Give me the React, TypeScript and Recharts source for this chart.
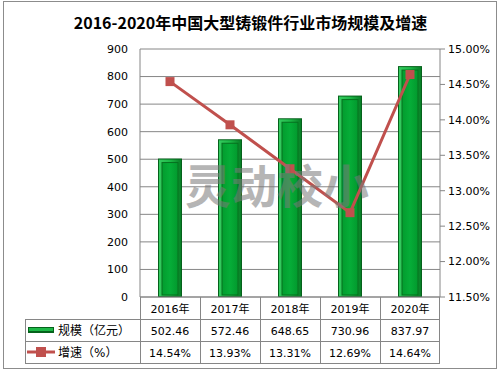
import React from "react";
import {
  ComposedChart,
  Bar,
  Line,
  XAxis,
  YAxis,
  CartesianGrid,
} from "recharts";

const years = ["2016年", "2017年", "2018年", "2019年", "2020年"];
const marketSize = [502.46, 572.46, 648.65, 730.96, 837.97]; // 亿元
const growthRate = [14.54, 13.93, 13.31, 12.69, 14.64]; // %
const leftTicks = [0, 100, 200, 300, 400, 500, 600, 700, 800, 900];
const rightTicks = [11.5, 12, 12.5, 13, 13.5, 14, 14.5, 15];

const W = 500;
const H = 371;
const PLOT_L = 140;
const PLOT_R = 440;
const PLOT_T = 49;
const PLOT_B = 297;
const ROW_H = 22;
const LEGEND_L = 25;

const FONT = '"DejaVu Sans", "Noto Sans CJK SC", sans-serif';
const GRID = "#868686";
const RED = "#c0504d";

const chartData = years.map((year, i) => ({
  year,
  size: marketSize[i],
  growth: growthRate[i],
}));

// Excel style bevelled green bar
const BevelBar = (props: any) => {
  const { x, y, width, height } = props;
  if (!height || height <= 0) return null;
  return (
    <g>
      <rect x={x} y={y} width={width} height={height} fill="#05621b" />
      <rect x={x + 1} y={y + 1} width={width - 2} height={height - 2} fill="url(#barEdge)" />
      <rect
        x={x + 4}
        y={y + 4}
        width={width - 8}
        height={height - 6}
        fill="url(#barFace)"
        stroke="#06711f"
        strokeWidth={1}
      />
    </g>
  );
};

const SquareDot = (props: any) => {
  const { cx, cy } = props;
  if (cx == null || cy == null) return null;
  return <rect x={cx - 4.5} y={cy - 4.5} width={9} height={9} fill={RED} />;
};

const YearTick = (props: any) => {
  const { x, payload } = props;
  return (
    <text
      x={x}
      y={PLOT_B + ROW_H / 2 + 1}
      textAnchor="middle"
      dominantBaseline="central"
      fontSize={11}
      fontFamily={FONT}
      fill="#000"
    >
      {payload.value}
    </text>
  );
};

export default function App() {
  const colW = (PLOT_R - PLOT_L) / years.length;
  const row1 = PLOT_B + ROW_H;
  const row2 = row1 + ROW_H;
  const tableBottom = row2 + ROW_H;

  return (
    <div style={{ position: "absolute", left: 0, top: 0, width: W, height: H, background: "#fff" }}>
      <ComposedChart
        width={W}
        height={H}
        data={chartData}
        margin={{ top: PLOT_T, right: 0, left: 0, bottom: H - PLOT_B - ROW_H }}
      >
        <defs>
          <linearGradient id="barEdge" x1="0" y1="0" x2="1" y2="0">
            <stop offset="0%" stopColor="#35cc60" />
            <stop offset="50%" stopColor="#1db847" />
            <stop offset="100%" stopColor="#087f26" />
          </linearGradient>
          <linearGradient id="barFace" x1="0" y1="0" x2="1" y2="0">
            <stop offset="0%" stopColor="#029c2e" />
            <stop offset="50%" stopColor="#06ad38" />
            <stop offset="100%" stopColor="#02992d" />
          </linearGradient>
        </defs>
        <CartesianGrid
          yAxisId="left"
          vertical={false}
          horizontal
          stroke={GRID}
          strokeWidth={1}
        />
        <XAxis
          dataKey="year"
          height={ROW_H}
          tickLine={false}
          axisLine={{ stroke: GRID }}
          tick={<YearTick />}
          interval={0}
        />
        <YAxis
          yAxisId="left"
          orientation="left"
          width={PLOT_L}
          domain={[0, 900]}
          ticks={leftTicks}
          tickLine={false}
          tickMargin={6}
          axisLine={{ stroke: GRID }}
          tick={{ fontSize: 11, fontFamily: FONT, fill: "#000" }}
        />
        <YAxis
          yAxisId="right"
          orientation="right"
          width={W - PLOT_R}
          domain={[11.5, 15]}
          ticks={rightTicks}
          tickSize={5}
          tickMargin={3}
          tickLine={{ stroke: GRID }}
          axisLine={{ stroke: GRID }}
          tickFormatter={(v: number) => `${v.toFixed(2)}%`}
          tick={{ fontSize: 11, fontFamily: FONT, fill: "#000" }}
        />
        <Bar
          yAxisId="left"
          dataKey="size"
          barSize={24}
          shape={<BevelBar />}
          isAnimationActive={false}
        />
        <Line
          yAxisId="right"
          dataKey="growth"
          stroke={RED}
          strokeWidth={3}
          dot={<SquareDot />}
          activeDot={false}
          isAnimationActive={false}
        />
      </ComposedChart>

      <svg
        width={W}
        height={H}
        style={{ position: "absolute", left: 0, top: 0, pointerEvents: "none" }}
      >
        {/* chart frame */}
        <rect x={3.5} y={1.5} width={493} height={367} fill="none" stroke="#8c8c8c" />

        <text
          x={250.5}
          y={29}
          textAnchor="middle"
          fontSize={16}
          fontWeight="bold"
          fontFamily='"Noto Sans CJK SC", sans-serif'
          fill="#000"
        >
          2016-2020年中国大型铸锻件行业市场规模及增速
        </text>

        {/* watermark */}
        <text
          x={277}
          y={203}
          textAnchor="middle"
          fontSize={46}
          fontWeight="bold"
          fontFamily='"Noto Sans CJK SC", sans-serif'
          fill="#7a7a7a"
          opacity={0.55}
        >
          灵动校小
        </text>

        {/* data table */}
        <g stroke={GRID} strokeWidth={1} fill="none">
          {years.map((_, i) => (
            <line
              key={`v${i}`}
              x1={PLOT_L + i * colW + 0.5}
              x2={PLOT_L + i * colW + 0.5}
              y1={PLOT_B}
              y2={tableBottom}
            />
          ))}
          <line x1={PLOT_R - 0.5} x2={PLOT_R - 0.5} y1={PLOT_B} y2={tableBottom} />
          <line x1={LEGEND_L + 0.5} x2={LEGEND_L + 0.5} y1={row1} y2={tableBottom} />
          <line x1={LEGEND_L} x2={PLOT_R} y1={row1 + 0.5} y2={row1 + 0.5} />
          <line x1={LEGEND_L} x2={PLOT_R} y1={row2 + 0.5} y2={row2 + 0.5} />
          <line x1={LEGEND_L} x2={PLOT_R} y1={tableBottom + 0.5} y2={tableBottom + 0.5} />
        </g>

        {marketSize.map((v, i) => (
          <text
            key={`s${i}`}
            x={PLOT_L + (i + 0.5) * colW}
            y={row1 + ROW_H / 2 + 1}
            textAnchor="middle"
            dominantBaseline="central"
            fontSize={11}
            fontFamily={FONT}
          >
            {v.toFixed(2)}
          </text>
        ))}
        {growthRate.map((v, i) => (
          <text
            key={`g${i}`}
            x={PLOT_L + (i + 0.5) * colW}
            y={row2 + ROW_H / 2 + 1}
            textAnchor="middle"
            dominantBaseline="central"
            fontSize={11}
            fontFamily={FONT}
          >
            {`${v.toFixed(2)}%`}
          </text>
        ))}

        {/* legend keys */}
        <rect x={28} y={row1 + 8} width={26} height={6} fill="#05621b" />
        <rect x={29} y={row1 + 9} width={24} height={3} fill="#1db847" />
        <text
          x={58}
          y={row1 + ROW_H / 2 + 1}
          dominantBaseline="central"
          fontSize={12}
          fontFamily={FONT}
        >
          规模（亿元）
        </text>
        <line x1={27} x2={55} y1={row2 + 11} y2={row2 + 11} stroke={RED} strokeWidth={3} />
        <rect x={36} y={row2 + 6} width={10} height={10} fill={RED} />
        <text
          x={58}
          y={row2 + ROW_H / 2 + 1}
          dominantBaseline="central"
          fontSize={12}
          fontFamily={FONT}
        >
          增速（%）
        </text>
      </svg>
    </div>
  );
}
